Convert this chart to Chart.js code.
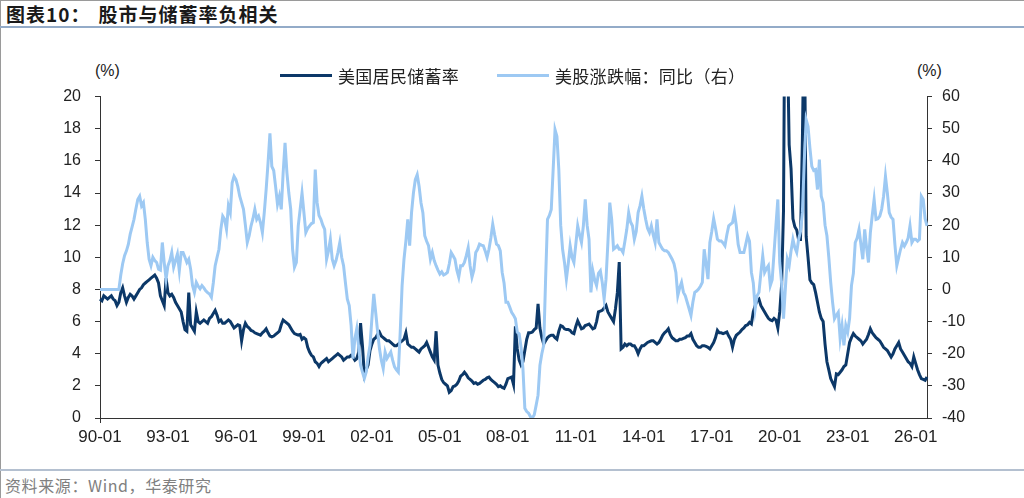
<!DOCTYPE html>
<html>
<head>
<meta charset="utf-8">
<script src="https://cdn.jsdelivr.net/npm/chart.js@4/dist/chart.umd.min.js"></script>
<style>
  body { margin: 0; width: 1024px; height: 498px; position: relative; overflow: hidden; background: #fff;
         font-family: "Noto Sans CJK SC", sans-serif; }
  #frame { position: absolute; left: 0; top: 0; width: 1024px; height: 498px; box-sizing: border-box;
           border-left: 1px solid #9a9a9a; border-top: 1px solid #9a9a9a; }
  #title { position: absolute; left: 6px; top: 0px; font-size: 19px; font-weight: bold; color: #1a1a1a; letter-spacing: 1px; white-space: nowrap; }
  #title span { margin-left: 8px; }
  #topline { position: absolute; left: 0; top: 26px; width: 1024px; height: 2px; background: #93abc8; }
  #botline { position: absolute; left: 0; top: 469px; width: 1024px; height: 2px; background: #b4c0d0; }
  #source { position: absolute; left: 5px; top: 473px; font-size: 16px; color: #808080; letter-spacing: 0.6px; }
  .unit { position: absolute; top: 62px; font-family: "Liberation Sans", Arial, sans-serif; font-size: 16px; color: #222; }
  .leg { position: absolute; top: 63px; display: flex; align-items: center; font-size: 17px; color: #222; letter-spacing: 0.3px; }
  .leg i { display: inline-block; width: 52px; height: 3px; margin-right: 6px; }
  #box { position: absolute; left: 0; top: 73px; width: 1024px; height: 385px; }
</style>
</head>
<body>
<div id="frame"></div>
<div id="title">图表10：<span>股市与储蓄率负相关</span></div>
<div id="topline"></div>
<div class="unit" style="left:95px">(%)</div>
<div class="unit" style="left:917px">(%)</div>
<div id="box"><canvas id="c"></canvas></div>
<div class="leg" style="left:280px"><i style="background:#0c3868"></i>美国居民储蓄率</div>
<div class="leg" style="left:497px"><i style="background:#9dc9f3"></i>美股涨跌幅：同比（右）</div>
<div id="botline"></div>
<div id="source">资料来源：Wind，华泰研究</div>
<script>
// monthly categories 1990-01 .. 2026-07
var months = [];
for (var y = 1990; y <= 2026; y++) {
  for (var m = 1; m <= 12; m++) {
    if (y === 2026 && m > 7) break;
    months.push(String(y).slice(2) + "-" + (m < 10 ? "0" + m : m));
  }
}

var xTickLabels = ["90-01", "93-01", "96-01", "99-01", "02-01", "05-01", "08-01",
  "11-01", "14-01", "17-01", "20-01", "23-01", "26-01"];

var leftTicks = [0, 2, 4, 6, 8, 10, 12, 14, 16, 18, 20];
var rightTicks = [-40, -30, -20, -10, 0, 10, 20, 30, 40, 50, 60];

// US personal saving rate, %
var savingRate = [
  7.4, 7.3, 7.6, 7.5, 7.4, 7.5, 7.6, 7.4, 7.3, 7.0, 7.2, 7.8,        // 1990
  8.1, 7.6, 7.2, 7.5, 7.7, 7.6, 7.4, 7.6, 7.8, 8.0, 8.1, 8.3,        // 1991
  8.4, 8.5, 8.6, 8.7, 8.8, 8.9, 8.7, 8.4, 7.6, 7.3, 7.0, 8.7,        // 1992
  7.8, 7.6, 7.7, 7.5, 7.2, 7.0, 6.8, 6.6, 6.0, 5.5, 5.4, 7.8,        // 1993
  5.8, 5.6, 5.4, 6.6, 6.0, 5.9, 6.0, 6.1, 6.0, 5.9, 6.2, 6.3,        // 1994
  6.5, 6.7, 6.4, 6.0, 6.1, 5.9, 5.9, 6.0, 6.1, 6.0, 5.8, 5.6,        // 1995
  5.7, 5.8, 5.75, 4.8, 5.5, 5.9, 5.7, 5.6, 5.45, 5.4, 5.3, 5.25,     // 1996
  5.2, 5.15, 5.3, 5.4, 5.55, 5.3, 5.1, 5.05, 5.1, 5.2, 5.3, 5.4,     // 1997
  5.8, 6.1, 6.0, 5.9, 5.8, 5.6, 5.4, 5.25, 5.2, 5.15, 5.2, 4.9,      // 1998
  5.0, 4.9, 4.4, 4.1, 3.9, 3.8, 3.5, 3.4, 3.2, 3.4, 3.5, 3.6,        // 1999
  3.7, 3.5, 3.6, 3.7, 3.8, 3.9, 4.0, 3.9, 3.8, 3.6, 3.7, 3.8,        // 2000
  3.8, 3.9, 3.8, 3.6, 3.7, 4.1, 5.9, 4.5, 2.7, 3.0, 3.3, 4.2,        // 2001
  4.6, 4.9, 5.0, 5.2, 5.35, 5.1, 5.0, 4.9, 4.8, 4.8, 4.7, 4.6,       // 2002
  4.5, 4.5, 4.6, 4.7, 4.8, 4.9, 5.3, 4.6, 4.5, 4.4, 4.4, 4.3,        // 2003
  4.2, 4.1, 4.3, 4.4, 4.5, 4.7, 4.4, 4.1, 3.8, 3.6, 5.4, 3.3,        // 2004
  2.8, 2.4, 2.2, 2.1, 2.0, 1.6, 1.7, 1.95, 2.0, 2.1, 2.3, 2.6,       // 2005
  2.7, 2.85, 2.7, 2.5, 2.4, 2.3, 2.15, 2.2, 2.1, 2.15, 2.25, 2.35,   // 2006
  2.4, 2.5, 2.55, 2.4, 2.3, 2.2, 2.1, 1.95, 2.0, 1.9, 1.85, 2.1,     // 2007
  2.45, 2.5, 2.55, 2.1, 5.7, 4.3, 3.6, 3.3, 3.5, 4.2, 4.9, 5.3,      // 2008
  5.3, 5.35, 5.5, 5.6, 7.1, 5.6, 5.0, 4.6, 4.8, 5.0, 5.1, 5.15,      // 2009
  5.15, 5.0, 4.9, 5.4, 5.75, 5.7, 5.55, 5.5, 5.5, 5.45, 5.3, 5.25,   // 2010
  5.7, 6.05, 5.8, 5.55, 5.6, 5.75, 5.8, 5.85, 5.7, 5.55, 5.6, 6.0,   // 2011
  6.6, 6.65, 6.7, 6.85, 7.0, 6.6, 6.4, 6.2, 6.0, 6.8, 7.8, 9.7,      // 2012
  4.3, 4.4, 4.6, 4.5, 4.6, 4.6, 4.5, 4.5, 4.3, 4.0, 4.3, 4.5,        // 2013
  4.5, 4.6, 4.7, 4.75, 4.8, 4.8, 4.7, 4.6, 4.7, 4.9, 5.15, 5.3,      // 2014
  5.4, 5.55, 5.2, 5.0, 4.9, 4.8, 4.8, 4.9, 4.9, 4.95, 5.0, 5.1,      // 2015
  5.1, 5.25, 4.9, 4.7, 4.5, 4.4, 4.4, 4.5, 4.5, 4.45, 4.4, 4.3,      // 2016
  4.5, 4.7, 5.0, 5.45, 5.3, 5.3, 5.25, 5.3, 5.35, 5.1, 4.9, 4.4,     // 2017
  4.9, 5.15, 5.25, 5.35, 5.5, 5.6, 5.75, 5.8, 5.95, 5.85, 6.6, 7.0,  // 2018
  7.3, 7.4, 7.0, 6.8, 6.6, 6.4, 6.2, 6.1, 6.05, 6.2, 6.1, 5.6,       // 2019
  6.6, 8.3, 12.9, 32.0, 24.0, 17.0, 15.5, 12.4, 11.9, 11.7, 11.1, 11.1, // 2020
  17.3, 26.0, 11.3, 10.0, 8.6, 8.4, 8.3, 7.8, 7.2, 6.6, 6.2, 6.0,    // 2021
  4.6, 3.5, 3.0, 2.45, 2.2, 1.95, 2.75, 2.7, 2.85, 3.0, 3.2, 3.3,    // 2022
  4.0, 4.7, 5.0, 5.25, 5.1, 5.0, 4.9, 4.8, 4.6, 4.75, 4.9, 5.2,      // 2023
  5.55, 5.3, 5.15, 5.0, 4.9, 4.8, 4.6, 4.4, 4.3, 4.2, 4.0, 3.8,      // 2024
  4.0, 4.3, 4.5, 4.7, 4.3, 4.1, 3.9, 3.7, 3.5, 3.4, 3.2, 3.8,        // 2025
  3.4, 3.0, 2.7, 2.45, 2.4, 2.35, 2.55                               // 2026
];

// US stocks, year-on-year change, % (right axis)
var stockYoY = [
  0, 0, 0, 0, 0, 0, 0, 0, 0, 0, 0, 4.5,                                   // 1990
  8.0, 10.5, 12.0, 14.0, 17.2, 19.5, 21.8, 25.0, 28.0, 29.0, 26.0, 27.0,  // 1991
  21.8, 14.6, 9.4, 7.4, 10.0, 9.0, 8.4, 6.3, 6.0, 14.6, 8.4, 3.2,         // 1992
  7.4, 9.0, 11.5, 6.9, 9.0, 11.0, 5.8, 11.5, 11.5, 10.0, 8.4, 9.4,        // 1993
  6.3, 1.2, -0.9, 2.2, 1.0, 0.2, 1.2, 0.5, -0.4, -1.0, -1.4, -2.4,        // 1994
  2.0, 7.4, 10.0, 12.5, 18.7, 22.8, 21.8, 18.7, 26.0, 23.9, 33.2, 35.2,   // 1995
  34.2, 32.0, 29.0, 27.0, 24.9, 20.0, 14.6, 16.7, 19.8, 22.0, 24.9, 21.8, // 1996
  22.8, 20.8, 17.7, 23.9, 31.1, 39.4, 48.6, 38.3, 37.0, 32.0, 26.5, 29.0, // 1997
  24.9, 36.3, 45.6, 36.3, 30.0, 25.0, 12.5, 6.9, 8.4, 19.8, 24.9, 30.0,   // 1998
  23.9, 17.7, 19.0, 19.8, 20.5, 20.8, 37.3, 27.0, 23.0, 21.8, 20.0, 18.7, // 1999
  9.4, 12.0, 15.6, 9.4, 7.4, 9.0, 11.5, 14.6, 10.0, 7.4, 2.0, -3.0,       // 2000
  -5.0, -11.2, -21.5, -15.3, -12.2, -18.0, -23.6, -25.7, -27.7, -25.7, -21.0, -17.4, // 2001
  -9.1, -1.4, -7.1, -13.0, -18.4, -22.0, -24.6, -19.5, -21.5, -20.5, -19.5, -22.0,   // 2002
  -24.1, -25.0, -25.7, -13.3, 1.2, 9.4, 15.0, 21.8, 13.6, 23.9, 30.0, 34.2,          // 2003
  35.7, 32.1, 27.0, 23.9, 16.7, 15.0, 13.6, 9.4, 11.5, 9.0, 7.4, 6.0,     // 2004
  4.8, 5.5, 4.5, 4.8, 5.3, 8.0, 11.5, 10.5, 9.4, 6.0, 3.8, 7.4,           // 2005
  7.4, 8.4, 10.5, 13.0, 7.4, 3.8, 6.0, 11.5, 12.5, 14.1, 13.8, 13.6,      // 2006
  12.0, 10.0, 12.5, 16.0, 20.3, 17.0, 14.1, 13.6, 12.0, 5.3, 2.0, -4.0,   // 2007
  -4.0, -5.5, -7.1, -8.0, -9.1, -13.3, -13.8, -18.0, -24.6, -37.0, -38.0, -38.5,     // 2008
  -39.6, -40.0, -39.0, -36.0, -32.9, -23.6, -20.0, -17.4, 3.2, 21.8, 23.0, 24.9,     // 2009
  37.3, 49.7, 47.6, 37.3, 20.0, 12.5, 8.4, 3.2, 8.0, 13.6, 10.0, 8.4,     // 2010
  14.0, 19.8, 17.0, 14.6, 19.8, 28.0, 20.0, 15.6, -0.9, 5.8, 3.0, 1.2,    // 2011
  5.0, 5.8, 2.2, -3.0, 3.2, 14.6, 27.0, 21.8, 12.5, 13.0, 13.6, 12.5,     // 2012
  12.5, 11.5, 15.0, 18.7, 23.9, 21.0, 19.8, 15.6, 18.0, 23.9, 26.0, 29.0, // 2013
  25.0, 21.8, 19.0, 17.7, 19.8, 17.0, 14.6, 21.8, 14.6, 13.5, 12.5, 12.0, // 2014
  12.0, 11.5, 10.5, 9.4, 8.0, 5.3, -1.9, 0.5, 2.2, -0.9, -2.0, -4.0,      // 2015
  -6.0, -8.1, -4.0, -0.9, -0.5, 0.1, 1.0, 2.2, 12.5, 8.0, 3.2, 14.6,      // 2016
  18.0, 22.0, 19.0, 15.6, 15.1, 15.1, 14.5, 13.6, 17.0, 19.8, 20.3, 20.8, // 2017
  23.9, 19.8, 14.0, 11.5, 11.5, 11.5, 14.0, 16.7, 15.0, 5.3, 2.0, -6.0,   // 2018
  -2.0, -0.9, 5.0, 10.5, 5.3, 6.5, 7.4, 1.2, 3.0, 11.5, 20.0, 28.0,       // 2019
  8.4, 2.0, -9.1, 0.5, 9.4, 7.4, 12.0, 15.6, 13.0, 11.5, 15.6, 18.0,      // 2020
  23.9, 40.0, 52.8, 50.7, 44.0, 38.3, 37.0, 37.3, 31.1, 40.4, 29.0, 27.0, // 2021
  20.0, 16.7, 10.0, 2.2, -4.0, -9.1, -8.0, -7.1, -15.3, -11.2, -17.4, -11.2, // 2022
  -13.3, -9.0, 1.2, 5.0, 14.6, 16.0, 18.7, 14.0, 9.4, 18.7, 13.0, 8.4,    // 2023
  17.7, 23.0, 28.0, 21.8, 22.0, 22.8, 25.0, 29.0, 35.2, 30.0, 23.9, 22.5, // 2024
  21.8, 14.0, 7.4, 10.0, 12.5, 14.6, 13.5, 14.6, 16.0, 19.8, 14.6, 15.6,  // 2025
  15.6, 15.0, 15.6, 29.0, 28.0, 22.0, 19.8                                // 2026
];

var axisColor = "#333";
var tickFont = { family: "'Liberation Sans', Arial, sans-serif", size: 16 };

function showX(i) {
  return xTickLabels.indexOf(months[i]) >= 0;
}

new Chart(document.getElementById("c").getContext("2d"), {
  type: "line",
  data: {
    labels: months,
    datasets: [{
      label: "美国居民储蓄率",
      data: savingRate,
      yAxisID: "y",
      borderColor: "#0c3868",
      borderWidth: 3,
      pointRadius: 0,
      tension: 0,
      order: 1
    }, {
      label: "美股涨跌幅：同比（右）",
      data: stockYoY,
      yAxisID: "y2",
      borderColor: "#9dc9f3",
      borderWidth: 3,
      pointRadius: 0,
      tension: 0,
      order: 0
    }]
  },
  options: {
    responsive: true,
    maintainAspectRatio: false,
    animation: false,
    layout: { padding: { top: 8, left: 0, right: 0, bottom: 0 } },
    plugins: { legend: { display: false }, tooltip: { enabled: false } },
    scales: {
      x: {
        type: "category",
        offset: false,
        grid: {
          drawOnChartArea: false,
          drawTicks: true,
          tickLength: 5,
          offset: false,
          tickColor: function(ctx) { return showX(ctx.index) ? axisColor : "rgba(0,0,0,0)"; }
        },
        border: { display: true, color: axisColor, width: 1 },
        ticks: {
          autoSkip: false,
          maxRotation: 0,
          padding: 4,
          color: "#222",
          font: { family: tickFont.family, size: 17 },
          callback: function(v, i) { return showX(i) ? months[i] : null; }
        },
        afterFit: function(s) { s.height = 40; }
      },
      y: {
        position: "left",
        min: leftTicks[0],
        max: leftTicks[leftTicks.length - 1],
        grid: { drawOnChartArea: false, drawTicks: true, tickLength: 5, tickColor: axisColor },
        border: { display: true, color: axisColor, width: 1 },
        ticks: {
          stepSize: 2,
          padding: 14,
          color: "#222",
          font: tickFont,
          callback: function(v) { return leftTicks.indexOf(v) >= 0 ? v : null; }
        },
        afterFit: function(s) { s.width = 100; }
      },
      y2: {
        position: "right",
        min: rightTicks[0],
        max: rightTicks[rightTicks.length - 1],
        grid: { drawOnChartArea: false, drawTicks: true, tickLength: 5, tickColor: axisColor },
        border: { display: true, color: axisColor, width: 1 },
        ticks: {
          stepSize: 10,
          padding: 10,
          color: "#222",
          font: tickFont,
          callback: function(v) { return rightTicks.indexOf(v) >= 0 ? v : null; }
        },
        afterFit: function(s) { s.width = 97; }
      }
    }
  }
});
</script>
</body>
</html>
